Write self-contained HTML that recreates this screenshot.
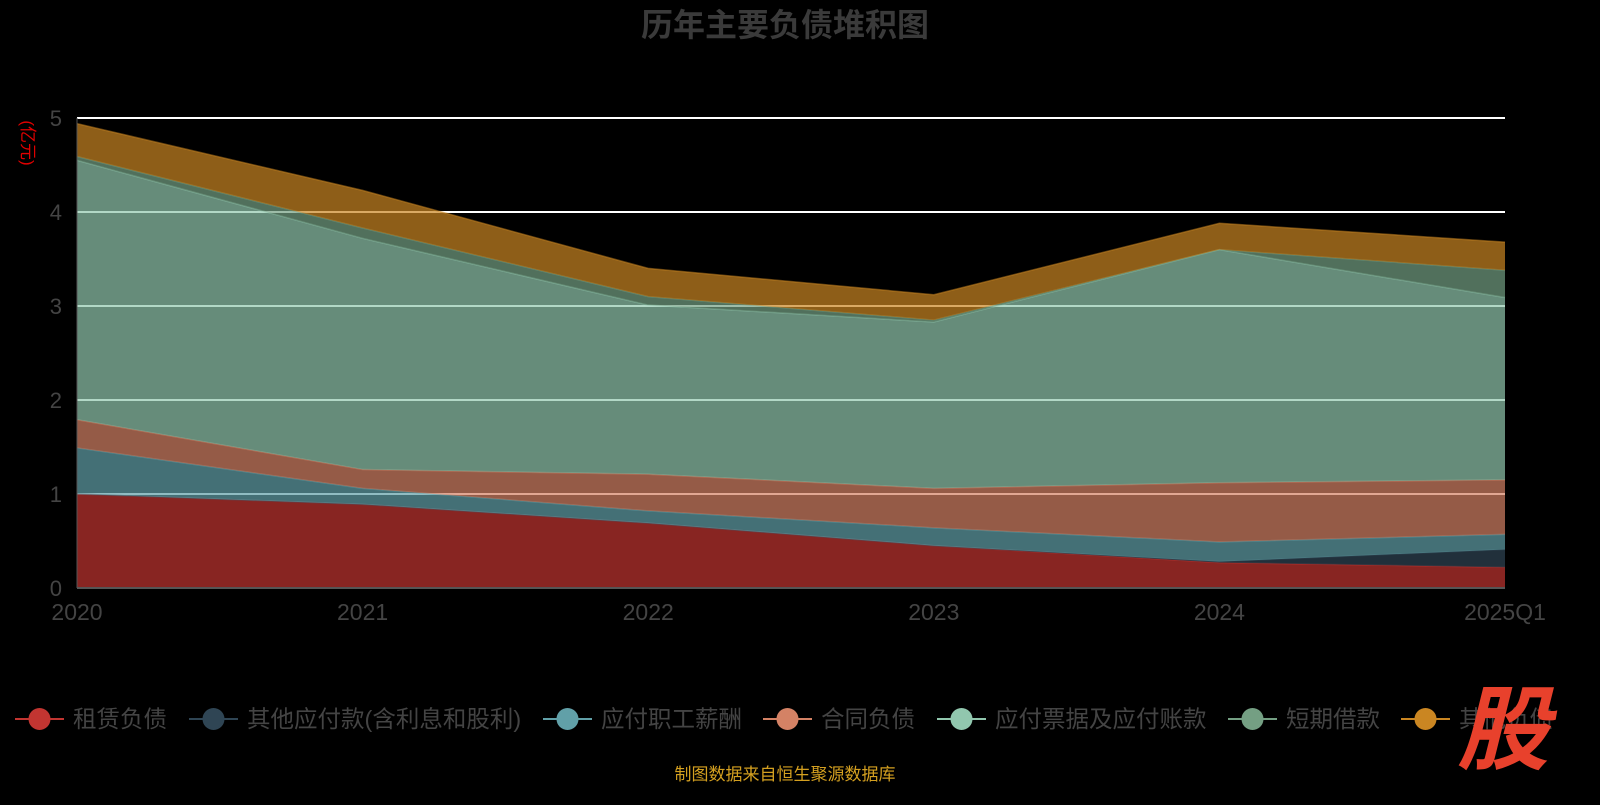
<!DOCTYPE html>
<html><head><meta charset="utf-8">
<style>
body{margin:0;background:#000;}
svg text{font-family:"Liberation Sans","Noto Sans CJK SC",sans-serif;}
</style></head>
<body>
<svg id="chart" width="1600" height="800" viewBox="0 0 1600 800" xmlns="http://www.w3.org/2000/svg">
<rect width="1600" height="800" fill="#000"/>
<text x="785" y="36" text-anchor="middle" font-size="32" font-weight="bold" fill="#3a3a3a">历年主要负债堆积图</text>
<text transform="translate(22,143) rotate(90)" text-anchor="middle" font-size="17" fill="#e00000">(亿元)</text>
<g id="grid"></g>
<g id="areas"></g>
<g id="axes"></g>
<g id="legend"></g>
<text x="785" y="780" text-anchor="middle" font-size="17" fill="#d4a020">制图数据来自恒生聚源数据库</text>
<text x="1503" y="762" text-anchor="middle" font-size="92" font-weight="bold" font-style="italic" fill="#e8412c">股</text>
</svg>
<script>
const categories=["2020","2021","2022","2023","2024","2025Q1"];
const seriesNames=["租赁负债","其他应付款(含利息和股利)","应付职工薪酬","合同负债","应付票据及应付账款","短期借款","其他负债"];
const s0=[1.0,0.89,0.69,0.45,0.27,0.22];
const s1=[0.0,0.0,0.0,0.0,0.01,0.19];
const s2=[0.49,0.17,0.13,0.19,0.21,0.16];
const s3=[0.30,0.20,0.39,0.42,0.63,0.58];
const s4=[2.76,2.46,1.80,1.77,2.48,1.94];
const s5=[0.04,0.11,0.09,0.02,0.0,0.29];
const s6=[0.35,0.40,0.30,0.27,0.28,0.30];
const yTicks=[0,1,2,3,4,5];
const colors=["#c23531","#2f4554","#61a0a8","#d48265","#91c7ae","#749f83","#ca8622"];
const series=[s0,s1,s2,s3,s4,s5,s6];
const NS="http://www.w3.org/2000/svg";
const X0=77,X1=1505,Y0=588,Y5=118;
const xs=i=>X0+(X1-X0)*i/(categories.length-1);
const ys=v=>Y0-(Y0-Y5)*v/5;
function mk(tag,attrs,parent){const e=document.createElementNS(NS,tag);for(const k in attrs)e.setAttribute(k,attrs[k]);parent.appendChild(e);return e;}
const grid=document.getElementById('grid'),areas=document.getElementById('areas'),axes=document.getElementById('axes'),legend=document.getElementById('legend');
yTicks.forEach(t=>{
  if(t>0){const l=mk('line',{x1:X0,x2:X1,y1:ys(t),y2:ys(t),stroke:'#fff','stroke-width':2},grid);
  
  }
  const tx=mk('text',{x:62,y:ys(t)+8,'text-anchor':'end','font-size':22,fill:'#444'},axes);
  tx.textContent=t;
  
  
});
let base=categories.map(()=>0);
series.forEach((s,k)=>{
  const top=base.map((b,i)=>b+s[i]);
  let d='M'+categories.map((c,i)=>xs(i)+','+ys(top[i])).join('L');
  for(let i=categories.length-1;i>=0;i--)d+='L'+xs(i)+','+ys(base[i]);
  d+='Z';
  const p=mk('path',{d:d,fill:colors[k],'fill-opacity':0.7},areas);
  
  
  const ln=mk('polyline',{points:categories.map((c,i)=>xs(i)+','+ys(top[i])).join(' '),fill:'none',stroke:colors[k],'stroke-opacity':0.5,'stroke-width':1.5},areas);
  
  
  base=top;
});
const ax=mk('line',{x1:X0,x2:X1,y1:Y0,y2:Y0,stroke:'#555','stroke-width':2},axes);


const ay=mk('line',{x1:X0,x2:X0,y1:Y5,y2:Y0,stroke:'#555','stroke-width':1},axes);


categories.forEach((c,i)=>{
  const t=mk('text',{x:xs(i),y:620,'text-anchor':'middle','font-size':23,fill:'#444'},axes);
  t.textContent=c;
  
  
});
const lx=[15,189,543,763,937,1228,1401];
seriesNames.forEach((n,k)=>{
  const g=mk('g',{},legend);
  
  
  mk('line',{x1:lx[k],x2:lx[k]+49,y1:719,y2:719,stroke:colors[k],'stroke-width':2},g);
  mk('circle',{cx:lx[k]+24.5,cy:719,r:11,fill:colors[k]},g);
  const t=mk('text',{x:lx[k]+58,y:727,'font-size':23.5,fill:'#444'},g);
  t.textContent=n;
});
</script>
</body></html>
